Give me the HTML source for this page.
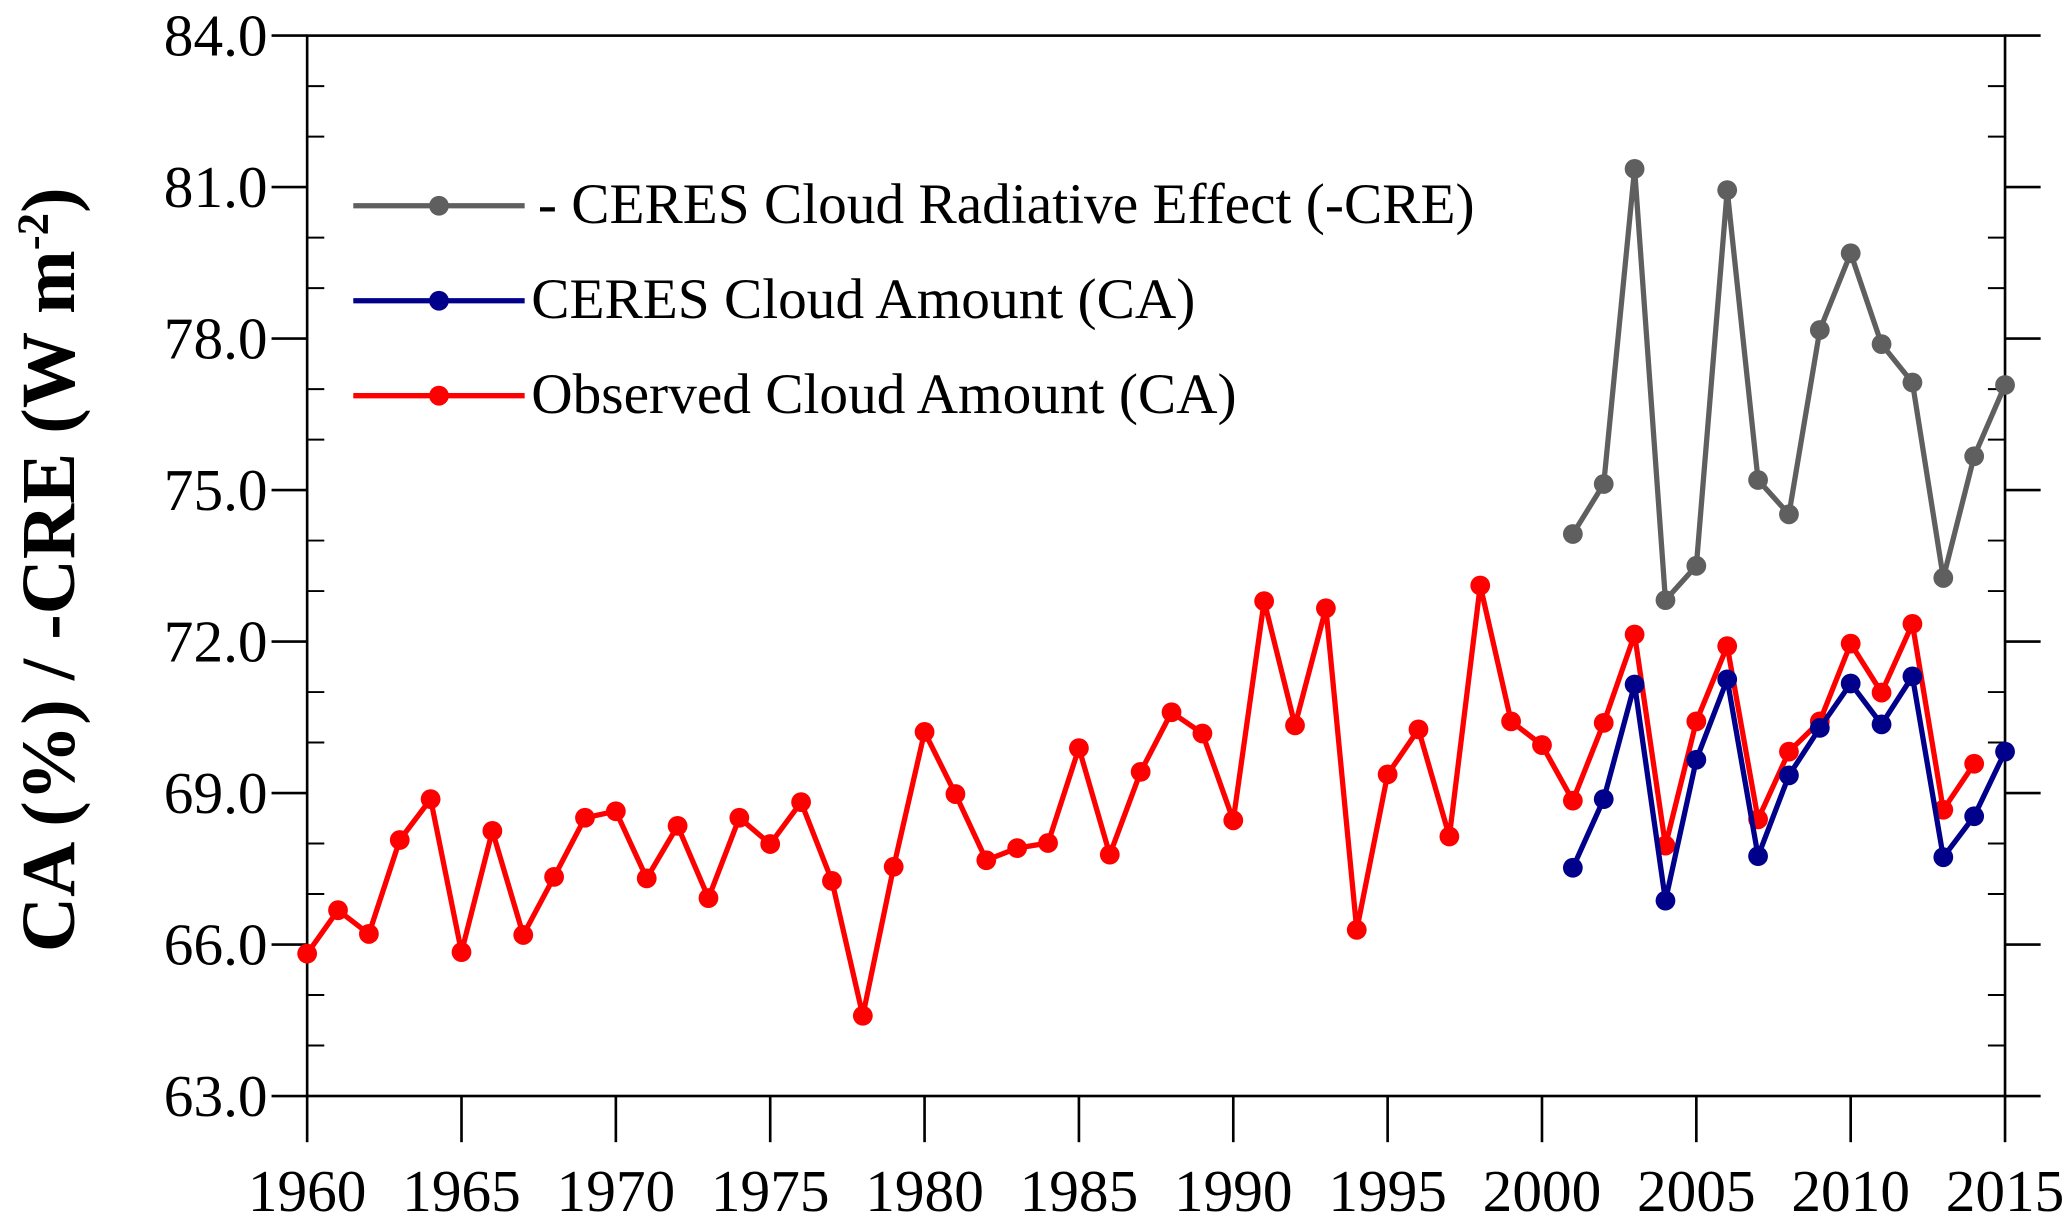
<!DOCTYPE html>
<html><head><meta charset="utf-8"><style>
html,body{margin:0;padding:0;background:#fff;}
svg{display:block;}
text{font-family:"Liberation Serif",serif;}
</style></head><body>
<svg id="chart" width="2067" height="1220" viewBox="0 0 1568 925" preserveAspectRatio="none" xmlns="http://www.w3.org/2000/svg">
<rect x="0" y="0" width="1568" height="925" fill="#fff"/>
<g id="axes"></g>
<g id="series"></g>
<g id="legend"></g>
<text transform="translate(56,432) rotate(-90)" text-anchor="middle" font-size="58" font-weight="bold">CA (%) / -CRE (W m<tspan dy="-20" font-size="34">-2</tspan><tspan dy="20">)</tspan></text>
</svg>
<script>
const redYears=[1960,1961,1962,1963,1964,1965,1966,1967,1968,1969,1970,1971,1972,1973,1974,1975,1976,1977,1978,1979,1980,1981,1982,1983,1984,1985,1986,1987,1988,1989,1990,1991,1992,1993,1994,1995,1996,1997,1998,1999,2000,2001,2002,2003,2004,2005,2006,2007,2008,2009,2010,2011,2012,2013,2014];
const redValues=[65.82,66.68,66.21,68.07,68.88,65.85,68.25,66.19,67.34,68.51,68.64,67.31,68.35,66.92,68.51,67.99,68.82,67.26,64.59,67.54,70.21,68.98,67.67,67.91,68.01,69.89,67.78,69.42,70.60,70.18,68.46,72.80,70.34,72.66,66.29,69.37,70.26,68.14,73.11,70.42,69.95,68.85,70.39,72.14,67.96,70.42,71.91,68.48,69.82,70.42,71.96,70.99,72.35,68.67,69.58];
const ceresYears=[2001,2002,2003,2004,2005,2006,2007,2008,2009,2010,2011,2012,2013,2014,2015];
const blueValues=[67.52,68.88,71.15,66.87,69.66,71.25,67.75,69.35,70.29,71.17,70.36,71.31,67.73,68.54,69.82];
const grayValues=[74.13,75.12,81.36,72.82,73.50,80.94,75.20,74.52,78.17,79.69,77.89,77.13,73.26,75.67,77.08];
const xTicks=[1960,1965,1970,1975,1980,1985,1990,1995,2000,2005,2010,2015];
const yTicks=[63,66,69,72,75,78,81,84];
const yTickLabels=["63.0","66.0","69.0","72.0","75.0","78.0","81.0","84.0"];
const legendLabels=["- CERES Cloud Radiative Effect (-CRE)","CERES Cloud Amount (CA)","Observed Cloud Amount (CA)"];

const NS="http://www.w3.org/2000/svg";
const L=233,R=1521,T=27,B=831;
const xS=v=>L+(v-1960)/(2015-1960)*(R-L);
const yS=v=>B-(v-63)/(84-63)*(B-T);
function mk(tag,attrs,parent){const e=document.createElementNS(NS,tag);for(const k in attrs)e.setAttribute(k,attrs[k]);parent.appendChild(e);return e;}
const axes=document.getElementById('axes');
const frame=mk('rect',{x:L,y:T,width:R-L,height:B-T,fill:'none',stroke:'#000','stroke-width':2},axes);


for(let v=63;v<=84;v++){
  if(v%3===0){
    const t1=mk('line',{x1:L-27,x2:L,y1:yS(v),y2:yS(v),stroke:'#000','stroke-width':2},axes);
    
    
    const t2=mk('line',{x1:R,x2:R+27,y1:yS(v),y2:yS(v),stroke:'#000','stroke-width':2},axes);
    
    
  }else{
    const t1=mk('line',{x1:L,x2:L+13,y1:yS(v),y2:yS(v),stroke:'#000','stroke-width':1.5},axes);
    
    
    const t2=mk('line',{x1:R-13,x2:R,y1:yS(v),y2:yS(v),stroke:'#000','stroke-width':1.5},axes);
    
    
  }
}
yTicks.forEach((v,i)=>{
  const t=mk('text',{x:L-30,y:yS(v)+15,'text-anchor':'end','font-size':45},axes);
  t.textContent=yTickLabels[i];
  
  
});
xTicks.forEach(v=>{
  const l=mk('line',{x1:xS(v),x2:xS(v),y1:B,y2:B+35,stroke:'#000','stroke-width':2},axes);
  
  
  const t=mk('text',{x:xS(v),y:918,'text-anchor':'middle','font-size':45},axes);
  t.textContent=v;
  
  
});
const ser=document.getElementById('series');
function drawSeries(xs,ys,color,name){
  const g=mk('g',{},ser);
  
  
  const pts=xs.map((x,i)=>xS(x)+','+yS(ys[i])).join(' ');
  const pl=mk('polyline',{points:pts,fill:'none',stroke:color,'stroke-width':4,'stroke-linejoin':'round'},g);
  
  
  xs.forEach((x,i)=>{
    const c=mk('circle',{cx:xS(x),cy:yS(ys[i]),r:7.5,fill:color},g);
    
    
  });
}
drawSeries(ceresYears,grayValues,'#5f5f5f','cre-series');
drawSeries(redYears,redValues,'#ff0000','observed-ca-series');
drawSeries(ceresYears,blueValues,'#00008b','ceres-ca-series');
const lg=document.getElementById('legend');
const lcol=['#5f5f5f','#00008b','#ff0000'];
const ly=[156,228,300];
const lnames=['legend-cre','legend-ceres-ca','legend-observed-ca'];
legendLabels.forEach((s,i)=>{
  const g=mk('g',{},lg);
  
  
  mk('line',{x1:268,x2:398,y1:ly[i],y2:ly[i],stroke:lcol[i],'stroke-width':4},g);
  mk('circle',{cx:333,cy:ly[i],r:7.5,fill:lcol[i]},g);
  const t=mk('text',{x:i===0?408:403,y:ly[i]+13,'font-size':43.5},g);
  t.textContent=s;
});
</script>
</body></html>
